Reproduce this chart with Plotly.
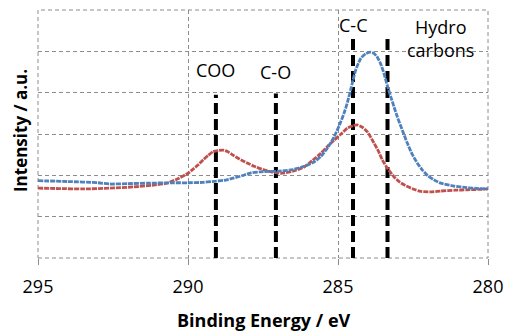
import plotly.graph_objects as go

# Binding energy (eV) and intensities (a.u.)
energy_blue = [295.0, 294.0, 293.0, 292.6, 292.0, 291.3, 290.5, 290.0, 289.5, 289.2, 288.8, 288.5,
               288.2, 287.9, 287.5, 287.0, 286.5, 286.13, 285.8, 285.58, 285.35, 285.13, 284.95,
               284.8, 284.68, 284.58, 284.5, 284.41, 284.24, 284.08, 283.93, 283.8, 283.69,
               283.58, 283.47, 283.36, 283.24, 283.13, 283.02, 282.85, 282.69, 282.52, 282.36,
               282.2, 282.02, 281.8, 281.58, 281.13, 280.7, 280.3, 280.0]
blue = [1.87, 1.85, 1.82, 1.79, 1.80, 1.81, 1.82, 1.82, 1.83, 1.85, 1.88, 1.93,
        1.99, 2.06, 2.09, 2.10, 2.14, 2.22, 2.32, 2.45, 2.66, 2.93, 3.22,
        3.50, 3.78, 4.06, 4.30, 4.55, 4.83, 4.94, 4.98, 4.95, 4.86,
        4.70, 4.47, 4.18, 3.90, 3.65, 3.41, 3.08, 2.78, 2.50, 2.30,
        2.14, 2.00, 1.89, 1.81, 1.74, 1.70, 1.68, 1.67]

energy_red = [295.0, 294.3, 293.5, 292.6, 291.8, 291.2, 290.7, 290.3, 290.0, 289.83, 289.65,
              289.5, 289.33, 289.17, 289.0, 288.83, 288.67, 288.5, 288.3, 288.03, 287.8,
              287.5, 287.2, 286.9, 286.5, 286.13, 285.85, 285.58, 285.35, 285.13, 284.9,
              284.69, 284.5, 284.36, 284.2, 284.02, 283.8, 283.65, 283.52, 283.36, 283.13,
              282.95, 282.8, 282.5, 282.24, 281.9, 281.58, 281.1, 280.69, 280.3, 280.0]
red = [1.69, 1.68, 1.67, 1.69, 1.72, 1.76, 1.81, 1.93, 2.05, 2.15, 2.26,
       2.37, 2.48, 2.57, 2.60, 2.61, 2.57, 2.49, 2.40, 2.30, 2.22,
       2.14, 2.08, 2.05, 2.10, 2.20, 2.36, 2.53, 2.70, 2.85, 3.00,
       3.14, 3.20, 3.22, 3.17, 3.05, 2.78, 2.58, 2.37, 2.18, 1.96,
       1.84, 1.77, 1.67, 1.61, 1.60, 1.62, 1.64, 1.65, 1.66, 1.67]

# Reference peak markers: position (eV), top of dashed line (a.u.), label
marker_pos = [289.07, 287.07, 284.5, 283.35]
marker_top = [3.95, 3.98, 5.37, 5.3]
marker_labels = ["COO", "C-O", "C-C", "Hydro<br>carbons"]
label_x = [289.07, 287.07, 284.5, 281.57]
label_y = [4.55, 4.5, 5.64, 5.31]

x_ticks = [295, 290, 285, 280]

BLUE = "#4F81BD"
RED = "#C0504D"
FONT = "Open Sans"
GRID = "#8c8c8c"

fig = go.Figure()

for xpos, top in zip(marker_pos, marker_top):
    fig.add_trace(go.Scatter(
        x=[xpos, xpos], y=[0, top], mode="lines",
        line=dict(color="black", width=4, dash="11px,5px"),
        hoverinfo="skip", showlegend=False))

fig.add_trace(go.Scatter(
    x=energy_red, y=red, mode="lines",
    line=dict(color=RED, width=2.8, dash="5px,1px", shape="spline", smoothing=0.6),
    showlegend=False))
fig.add_trace(go.Scatter(
    x=energy_blue, y=blue, mode="lines",
    line=dict(color=BLUE, width=2.8, dash="5px,1px", shape="spline", smoothing=0.6),
    showlegend=False))

for xl, ly, txt in zip(label_x, label_y, marker_labels):
    fig.add_annotation(x=xl, y=ly, text=txt, showarrow=False,
                       xanchor="center", yanchor="middle",
                       font=dict(family=FONT, size=18, color="black"))

# axis titles (plot area is 450 x 248 px)
fig.add_annotation(xref="paper", yref="paper", x=0.502, y=-0.25, text="<b>Binding Energy / eV</b>",
                   xanchor="center", yanchor="middle",
                   showarrow=False, font=dict(family=FONT, size=18, color="black"))
fig.add_annotation(xref="paper", yref="paper", x=-0.04, y=0.512, text="<b>Intensity / a.u.</b>",
                   xanchor="center", yanchor="middle",
                   textangle=-90, showarrow=False, font=dict(family=FONT, size=17, color="black"))

# dashed frame around plot area
fig.add_shape(type="rect", xref="paper", yref="paper", x0=0, y0=0, x1=1, y1=1,
              line=dict(color=GRID, width=1, dash="4px,3px"), layer="below")

fig.update_layout(
    width=507, height=331,
    margin=dict(l=38, r=19, t=10, b=73, autoexpand=False),
    paper_bgcolor="white", plot_bgcolor="white",
    font=dict(family=FONT, color="black"),
    xaxis=dict(
        range=[295, 280], tickvals=x_ticks, ticktext=[str(v) for v in x_ticks],
        showgrid=True, gridcolor=GRID, griddash="4px,3px", gridwidth=1,
        zeroline=False, showline=False, automargin=False,
        ticks="outside", ticklen=6, tickcolor=GRID,
        tickfont=dict(family=FONT, size=18, color="black"),
        ticklabelstandoff=6,
    ),
    yaxis=dict(
        range=[0, 6], dtick=1, showticklabels=False,
        showgrid=True, gridcolor=GRID, griddash="4px,3px", gridwidth=1,
        zeroline=False, showline=False, ticks="", automargin=False,
    ),
)

# remove the browser's default body margin so the figure fills the window exactly
fig.write_html("out.html",
               config={"displayModeBar": False},
               post_script="document.body.style.margin='0';document.body.style.overflow='hidden';")
